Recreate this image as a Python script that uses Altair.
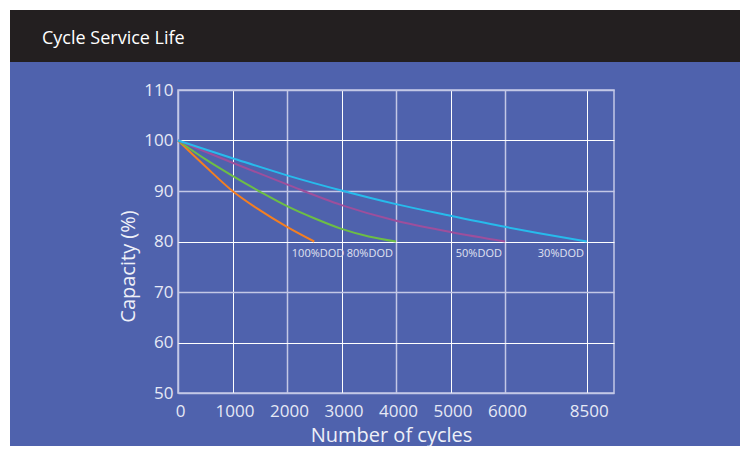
import altair as alt
import pandas as pd

# ---- data ----
series_names = ["100%DOD", "80%DOD", "50%DOD", "30%DOD"]
series_colors = ["#f47f21", "#6dbe45", "#9d4f9c", "#27bbec"]

cycles_100 = [0, 500, 1000, 1500, 2000, 2500]
capacity_100 = [100, 94.9, 90.0, 86.2, 82.9, 80.0]

cycles_80 = [0, 500, 1000, 1500, 2000, 2500, 3000, 3500, 4000]
capacity_80 = [100, 96.3, 93.0, 89.9, 87.0, 84.6, 82.5, 81.0, 80.0]

cycles_50 = [0, 1000, 2000, 3000, 4000, 5000, 6000]
capacity_50 = [100, 95.6, 91.3, 87.2, 84.1, 81.9, 80.0]

cycles_30 = [0, 1000, 2000, 3000, 4000, 5000, 6000, 7000, 8500]
capacity_30 = [100, 96.5, 93.1, 90.1, 87.4, 85.1, 82.9, 81.7, 80.0]

label_cycles = [2570, 3520, 5520, 7710]
label_capacity = [77.5, 77.5, 77.5, 77.5]

x_ticks = [0, 1000, 2000, 3000, 4000, 5000, 6000, 8500]
y_ticks = [50, 60, 70, 80, 90, 100, 110]

title_text = "Cycle Service Life"
x_title = "Number of cycles"
y_title = "Capacity (%)"

# ---- build tables ----
rows = []
for name, xs, ys in zip(series_names,
                        [cycles_100, cycles_80, cycles_50, cycles_30],
                        [capacity_100, capacity_80, capacity_50, capacity_30]):
    for cx, cy in zip(xs, ys):
        rows.append({"series": name, "cycles": cx, "capacity": cy})
lines_df = pd.DataFrame(rows)
labels_df = pd.DataFrame({"series": series_names, "cycles": label_cycles,
                          "capacity": label_capacity})

W, H = 436, 303
BG = "#4f62ad"
HEADER = "#231f20"
LIGHT_GRID = "#c3c8e6"
LABEL_COLOR = "#e6e9f5"
SANS = "Open Sans, sans-serif"

x_scale = alt.Scale(domain=[0, 6000, 8500, 9333.33], range=[0, 327, 408.75, W],
                    nice=False, zero=False)
y_scale = alt.Scale(domain=[50, 110], nice=False, zero=False)

x_axis = alt.Axis(
    values=x_ticks, title=x_title, grid=True, format="d",
    gridColor=alt.ExprRef(expr=f"datum.value % 2000 === 0 ? '{LIGHT_GRID}' : '#ffffff'"),
    gridWidth=alt.ExprRef(expr="datum.value % 2000 === 0 ? 1.5 : 1"),
    domain=False, ticks=False, tickSize=0,
    labelFont=SANS, labelFontSize=17, labelColor=LABEL_COLOR,
    labelBaseline="alphabetic", labelPadding=23, labelOffset=2, labelFlush=False,
    titleFont=SANS, titleFontSize=20, titleFontWeight="normal", titleColor="#eef0f8",
    titleX=213, titleY=48, titleAlign="center", titleBaseline="alphabetic",
)
y_axis = alt.Axis(
    values=y_ticks, title=y_title, grid=True, format="d",
    gridColor=alt.ExprRef(expr=f"datum.value % 20 === 10 ? '{LIGHT_GRID}' : '#ffffff'"),
    gridWidth=alt.ExprRef(expr="datum.value % 20 === 10 ? 1.5 : 1"),
    domain=False, ticks=False, tickSize=0,
    labelFont=SANS, labelFontSize=17, labelColor=LABEL_COLOR,
    labelPadding=5, labelFlush=False, labelBaseline="middle",
    titleFont=SANS, titleFontSize=20, titleFontWeight="normal", titleColor="#eef0f8",
    titleX=-44, titleY=176, titleAngle=270, titleAlign="center",
    titleBaseline="alphabetic",
)

one = pd.DataFrame({"k": [0]})

# white 2px page border strips (left and top) and dark header band
edge_left = alt.Chart(one).mark_rect(color="#ffffff").encode(
    x=alt.value(-170), x2=alt.value(-168), y=alt.value(-82), y2=alt.value(H + 53)
)
edge_top = alt.Chart(one).mark_rect(color="#ffffff").encode(
    x=alt.value(-170), x2=alt.value(W + 126), y=alt.value(-82), y2=alt.value(-80)
)
header = alt.Chart(one).mark_rect(color=HEADER).encode(
    x=alt.value(-168), x2=alt.value(W + 126), y=alt.value(-80), y2=alt.value(-28)
)
title = alt.Chart(one).mark_text(
    text=title_text, align="left", baseline="alphabetic", font=SANS,
    fontSize=18, color="#ffffff"
).encode(x=alt.value(-136), y=alt.value(-46))

lines = alt.Chart(lines_df).mark_line(strokeWidth=2, interpolate="monotone").encode(
    x=alt.X("cycles:Q", scale=x_scale, axis=x_axis),
    y=alt.Y("capacity:Q", scale=y_scale, axis=y_axis),
    color=alt.Color("series:N", scale=alt.Scale(domain=series_names, range=series_colors),
                    legend=None),
    detail="series:N",
)

labels = alt.Chart(labels_df).mark_text(
    font=SANS, fontSize=11, color="#e0e3f2", align="center", baseline="middle"
).encode(
    x=alt.X("cycles:Q"),
    y=alt.Y("capacity:Q"),
    text="series:N",
)

chart = alt.layer(edge_left, edge_top, header, title, lines, labels).properties(
    width=W, height=H, background=BG, autosize="none",
    padding={"left": 170, "top": 82, "right": 126, "bottom": 53},
).configure_view(stroke=LIGHT_GRID, strokeWidth=1.5)

chart.save("out.html", embed_options={"renderer": "svg", "actions": False})
